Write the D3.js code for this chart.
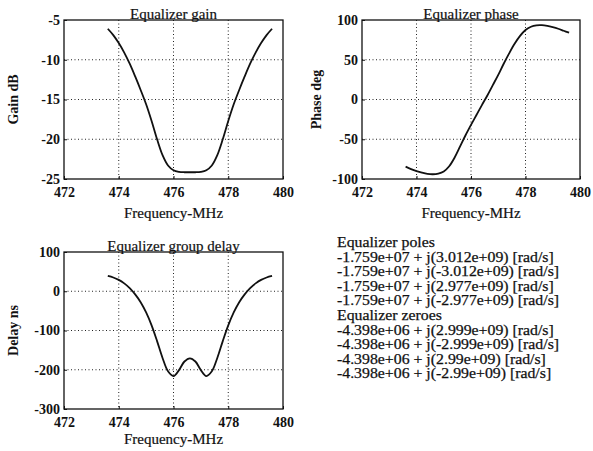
<!DOCTYPE html>
<html>
<head>
<meta charset="utf-8">
<script src="https://cdn.jsdelivr.net/npm/d3@7/dist/d3.min.js"></script>
<style>
  body { margin: 0; background: #fff; }
  text { font-family: "Liberation Serif", "Times New Roman", serif; fill: #111; }
</style>
</head>
<body>
<svg id="chart" width="593" height="451"></svg>
<script>
// frequency samples, MHz
const freq = [473.6, 473.8, 474.0, 474.2, 474.4, 474.6, 474.8, 475.0, 475.2, 475.4,
              475.6, 475.8, 476.0, 476.2, 476.4, 476.6, 476.8, 477.0, 477.2, 477.4,
              477.6, 477.8, 478.0, 478.2, 478.4, 478.6, 478.8, 479.0, 479.2, 479.4, 479.6];

const gainDb = [-6.1, -6.9, -7.9, -9.1, -10.5, -12.1, -13.8, -15.6, -17.7, -20.0,
                -22.0, -23.3, -23.9, -24.1, -24.15, -24.15, -24.15, -24.1, -23.9, -23.3,
                -22.0, -20.0, -17.7, -15.6, -13.8, -12.1, -10.5, -9.1, -7.9, -6.9, -6.1];

const phaseDeg = [-84.5, -87.5, -90, -92, -93.5, -94, -93.2, -90.5, -84, -73,
                  -59, -45, -32, -19.5, -7, 5, 18, 31, 45, 58,
                  70, 80, 87.5, 91.5, 93.3, 93.5, 92.6, 91, 89, 86.5, 84];

const delayNs = [39, 35, 29, 20, 8, -8, -28, -54, -87, -127,
                 -170, -204, -216, -201, -179, -171, -179, -201, -216, -204,
                 -170, -127, -87, -54, -28, -8, 8, 20, 29, 35, 39];

const xTicks = [472, 474, 476, 478, 480];
const gainTicks = [-25, -20, -15, -10, -5];
const phaseTicks = [-100, -50, 0, 50, 100];
const delayTicks = [-300, -200, -100, 0, 100];

const poleLines = [
  "-1.759e+07 + j(3.012e+09) [rad/s]",
  "-1.759e+07 + j(-3.012e+09) [rad/s]",
  "-1.759e+07 + j(2.977e+09) [rad/s]",
  "-1.759e+07 + j(-2.977e+09) [rad/s]"
];
const zeroLines = [
  "-4.398e+06 + j(2.999e+09) [rad/s]",
  "-4.398e+06 + j(-2.999e+09) [rad/s]",
  "-4.398e+06 + j(2.99e+09) [rad/s]",
  "-4.398e+06 + j(-2.99e+09) [rad/s]"
];

const svg = d3.select("#chart");

// widen text a little, the scan is broader than plain Times
function widen(sel, k) {
  sel.each(function () {
    var w = this.getComputedTextLength();
    d3.select(this).attr("textLength", w * k).attr("lengthAdjust", "spacingAndGlyphs");
  });
}

function drawPanel(p) {
  var x = d3.scaleLinear().domain([472, 480]).range([p.left, p.right]);
  var y = d3.scaleLinear().domain(d3.extent(p.yTicks)).range([p.bottom, p.top]);
  var g = svg.append("g");

  // dotted grid
  g.selectAll(".gx").data(xTicks.slice(1, -1)).enter().append("line")
    .attr("x1", d => x(d)).attr("x2", d => x(d))
    .attr("y1", p.top).attr("y2", p.bottom)
    .attr("stroke", "#222").attr("stroke-width", 1)
    .attr("stroke-dasharray", "1,2.5");
  g.selectAll(".gy").data(p.yTicks.slice(1, -1)).enter().append("line")
    .attr("x1", p.left).attr("x2", p.right)
    .attr("y1", d => y(d)).attr("y2", d => y(d))
    .attr("stroke", "#222").attr("stroke-width", 1)
    .attr("stroke-dasharray", "1,2.5");

  // axes with inward ticks
  var ax = g.append("g").attr("transform", "translate(0," + p.bottom + ")")
    .call(d3.axisBottom(x).tickValues(xTicks).tickSize(-3).tickPadding(5).tickFormat(d => String(d)));
  var ay = g.append("g").attr("transform", "translate(" + p.left + ",0)")
    .call(d3.axisLeft(y).tickValues(p.yTicks).tickSize(-3).tickPadding(4).tickFormat(d => String(d)));
  [ax, ay].forEach(function (a) {
    a.attr("font-family", null).attr("font-size", null);
    a.select(".domain").remove();
    a.selectAll("line").attr("stroke", "#111");
    a.selectAll("text")
      .attr("font-family", "Liberation Serif")
      .style("font-family", "'Liberation Serif', serif")
      .style("font-size", "14px").style("font-weight", "bold").style("fill", "#111");
  });
  ax.selectAll("text").attr("dy", "0.95em");

  // frame
  g.append("rect")
    .attr("x", p.left).attr("y", p.top)
    .attr("width", p.right - p.left).attr("height", p.bottom - p.top)
    .attr("fill", "none").attr("stroke", "#111").attr("stroke-width", 1.3);

  // curve
  var line = d3.line()
    .x((d, i) => x(freq[i]))
    .y(d => y(d))
    .curve(d3.curveCatmullRom);
  g.append("path").datum(p.values)
    .attr("d", line)
    .attr("fill", "none").attr("stroke", "#111").attr("stroke-width", 1.8);

  // title
  g.append("text")
    .attr("x", (p.left + p.right) / 2).attr("y", p.top - 1.5)
    .attr("text-anchor", "middle").attr("font-size", 15)
    .attr("stroke", "#111").attr("stroke-width", 0.2)
    .text(p.title);

  // x label
  g.append("text")
    .attr("x", (p.left + p.right) / 2).attr("y", p.bottom + p.xlabelDy)
    .attr("text-anchor", "middle").attr("font-size", 15)
    .attr("stroke", "#111").attr("stroke-width", 0.2)
    .text("Frequency-MHz");

  // y label
  g.append("text")
    .attr("transform", "translate(" + p.ylabelX + "," + ((p.top + p.bottom) / 2) + ") rotate(-90)")
    .attr("text-anchor", "middle").attr("font-size", 14).attr("font-weight", "bold")
    .text(p.ylabel);
}

drawPanel({ left: 64, right: 283, top: 20, bottom: 179, yTicks: gainTicks, xlabelDy: 39,
            values: gainDb, title: "Equalizer gain", ylabel: "Gain dB", ylabelX: 18 });
drawPanel({ left: 362, right: 580, top: 20, bottom: 179, yTicks: phaseTicks, xlabelDy: 39,
            values: phaseDeg, title: "Equalizer phase", ylabel: "Phase deg", ylabelX: 321 });
drawPanel({ left: 64, right: 283, top: 252, bottom: 409, yTicks: delayTicks, xlabelDy: 35,
            values: delayNs, title: "Equalizer group delay", ylabel: "Delay ns", ylabelX: 18 });

// poles / zeroes listing
var lines = ["Equalizer poles"].concat(poleLines, ["Equalizer zeroes"], zeroLines);
svg.append("g").selectAll("text").data(lines).enter().append("text")
  .attr("x", 337)
  .attr("y", (d, i) => 247 + i * 14.6)
  .attr("font-size", 14.5)
  .attr("stroke", "#111").attr("stroke-width", 0.25)
  .text(d => d)
  .call(widen, 1.09);
</script>
</body>
</html>
